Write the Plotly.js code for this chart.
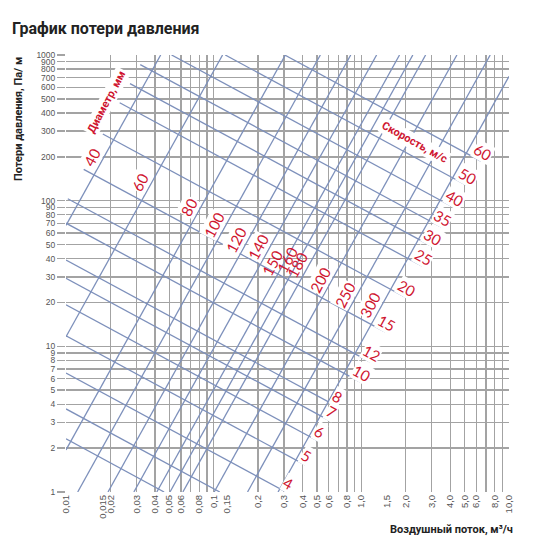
<!DOCTYPE html>
<html><head><meta charset="utf-8">
<script src="https://cdn.plot.ly/plotly-3.0.1.min.js"></script>
<style>html,body{margin:0;padding:0;background:#fff;}#chart{width:547px;height:549px;}</style>
</head><body><div id="chart"></div>
<script>
// ---- velocity lines, m/s (start / end points) ----
const velocityLabels = ['60','50','40','35','30','25','20','15','12','10','8','7','6','5','4','',''];
const velStartQ = [0.3025, 0.1198, 0.05188, 0.03184, 0.02713, 0.02310, 0.01775, 0.01318, 0.01028, 0.01, 0.01, 0.01, 0.01, 0.01, 0.01, 0.01, 0.01];
const velStartP = [1000, 1000, 1000, 859, 636, 470, 287, 164, 103, 70.1, 39.1, 29.3, 19.3, 11.8, 6.55, 3.72, 2.32];
const velEndQ = [6.45, 5.11, 4.17, 3.46, 2.96, 2.57, 1.97, 1.445, 1.143, 0.978, 0.673, 0.613, 0.508, 0.415, 0.309, 0.110, 0.0462];
const velEndP = [187, 128, 90.5, 66.0, 48.9, 35.6, 21.8, 12.56, 7.82, 5.70, 3.90, 3.08, 2.24, 1.535, 1.0, 1.0, 1.0];

// ---- diameter lines, mm ----
const diameterLabels = ['40','60','80','100','120','140','150','160','180','200','250','300'];
const diaStartQ = [0.01, 0.01, 0.01, 0.0120, 0.01925, 0.02882, 0.04118, 0.05059, 0.06186, 0.1008, 0.1696, 0.2729];
const diaStartP = [67.7, 11.64, 1.945, 1, 1, 1, 1, 1, 1, 1, 1, 1];
const diaEndQ = [0.04377, 0.1149, 0.3058, 0.5277, 0.8477, 1.269, 1.814, 2.232, 2.725, 4.439, 7.459, 10];
const diaEndP = [1000, 1000, 1000, 1000, 1000, 1000, 1000, 1000, 1000, 1000, 1000, 713];
const diaLabelP = [199.5, 134.4, 90.5, 68.1, 53.7, 48.1, 37.4, 39.2, 36.2, 28.6, 22.5, 19.2];

// ---- axes ----
const xGridVals = [0.01,0.02,0.03,0.04,0.05,0.06,0.07,0.08,0.09,0.1,0.2,0.3,0.4,0.5,0.6,0.7,0.8,0.9,1,2,3,4,5,6,7,8,9,10];
const xLabelVals = [0.01,0.0178,0.02,0.03,0.04,0.05,0.06,0.08,0.1,0.123,0.2,0.3,0.4,0.5,0.6,0.8,1,1.5,2,3,4,5,6,8,10];
const xLabelText = ['0,01','0,015','0,02','0,03','0,04','0,05','0,06','0,08','0,1','0,15','0,2','0,3','0,4','0,5','0,6','0,8','1,0','1,5','2,0','3,0','4,0','5,0','6,0','8,0','10,0'];
const yTickVals = [1,2,3,4,5,6,7,8,9,10,20,30,40,50,60,70,80,90,100,200,300,400,500,600,700,800,900,1000];
const yTickText = yTickVals.map(String);

const LINE = '#7d90bb', GRID = '#a3a3a3', RED = '#cf1530';

function joined(sx, sy, ex, ey) {
  const x = [], y = [];
  for (let i = 0; i < sx.length; i++) { x.push(sx[i], ex[i], null); y.push(sy[i], ey[i], null); }
  return {x, y};
}
const v = joined(velStartQ, velStartP, velEndQ, velEndP);
const d = joined(diaStartQ, diaStartP, diaEndQ, diaEndP);

const traces = [
  {type:'scatter', mode:'lines', x:v.x, y:v.y, xaxis:'x2', yaxis:'y', line:{color:LINE, width:1.3}, hoverinfo:'skip', showlegend:false},
  {type:'scatter', mode:'lines', x:d.x, y:d.y, xaxis:'x2', yaxis:'y', line:{color:LINE, width:1.3}, hoverinfo:'skip', showlegend:false}
];

const ann = [];
const lg = Math.log10;
const crowded = {'150':1, '160':1, '180':1};
diameterLabels.forEach((lab, i) => {
  const t = (lg(diaLabelP[i]) - lg(diaStartP[i])) / (lg(diaEndP[i]) - lg(diaStartP[i]));
  const lq = lg(diaStartQ[i]) + t * (lg(diaEndQ[i]) - lg(diaStartQ[i]));
  ann.push({x: lq, y: lg(diaLabelP[i]), xref:'x', yref:'y', text: lab, showarrow:false,
    xshift:-12, textangle:-62, bgcolor: crowded[lab] ? 'rgba(0,0,0,0)' : '#fff', borderpad:0,
    font:{family:'Lato, Roboto, sans-serif', size:15, color:RED}});
});
velocityLabels.forEach((lab, i) => {
  if (!lab) return;
  ann.push({x: lg(velEndQ[i]), y: lg(velEndP[i]), xref:'x', yref:'y', text: lab, showarrow:false,
    xshift:2, yshift:9, textangle:29, bgcolor:'#fff', borderpad:0,
    font:{family:'Lato, Roboto, sans-serif', size:15, color:RED}});
});
ann.push({x: lg(0.01866), y: lg(475.7), xref:'x', yref:'y', text:'Диаметр, мм', showarrow:false,
  textangle:-62, bgcolor:'#fff', borderpad:1, font:{family:'Roboto, sans-serif', size:11, color:RED, weight:700}});
ann.push({x: lg(2.306), y: lg(250), xref:'x', yref:'y', text:'Скорость, м/с', showarrow:false,
  textangle:29, bgcolor:'#fff', borderpad:1, font:{family:'Roboto, sans-serif', size:11, color:RED, weight:700}});
ann.push({x:0, y:1, xref:'paper', yref:'paper', xshift:-48, xanchor:'center', yanchor:'top',
  text:'Потери давления, Па/ м', showarrow:false, textangle:-90,
  font:{family:'Roboto, sans-serif', size:11, color:'#222', weight:700}});
ann.push({x:1, y:0, xref:'paper', yref:'paper', xshift:6, yshift:-37, xanchor:'right', yanchor:'middle',
  text:'Воздушный поток, м³/ч', showarrow:false,
  font:{family:'Roboto, sans-serif', size:11, color:'#222', weight:700}});

const layout = {
  width:547, height:549,
  margin:{l:66, r:38, t:55, b:57, pad:0},
  paper_bgcolor:'#fff', plot_bgcolor:'#fff',
  title:{text:'График потери давления', x:12/547, xanchor:'left', xref:'container',
    y:1-28/549, yanchor:'middle', yref:'container',
    font:{family:'Roboto, sans-serif', size:16, color:'#222', weight:700}},
  xaxis:{type:'log', range:[-2,1], tickmode:'array', tickvals:xLabelVals, ticktext:xLabelText,
    tickangle:-90, showgrid:false, zeroline:false, showline:false, ticks:'',
    tickfont:{family:'Liberation Sans, Arial, sans-serif', size:9.5, color:'#555'}},
  xaxis2:{type:'log', range:[-2,1], overlaying:'x', anchor:'y', side:'bottom', tickmode:'array',
    tickvals:xGridVals, showticklabels:false, showgrid:true, gridcolor:GRID, gridwidth:1.4,
    zeroline:false, showline:false, ticks:''},
  yaxis:{type:'log', range:[0,3], tickmode:'array', tickvals:yTickVals, ticktext:yTickText,
    showgrid:true, gridcolor:GRID, gridwidth:1.4, zeroline:false, showline:false,
    ticks:'outside', ticklen:8, tickcolor:GRID, tickwidth:1.4,
    tickfont:{family:'Liberation Sans, Arial, sans-serif', size:8.5, color:'#555'}},
  annotations: ann,
  showlegend:false
};
Plotly.newPlot('chart', traces, layout, {staticPlot:true, displayModeBar:false});
</script></body></html>
